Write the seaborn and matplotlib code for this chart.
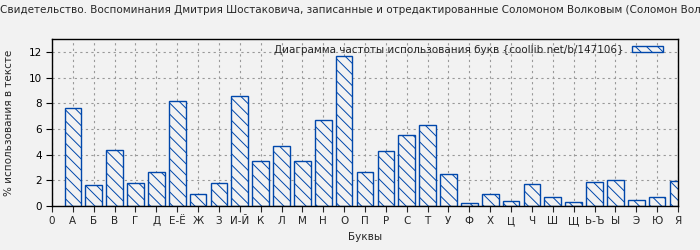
import matplotlib
matplotlib.use("Agg")
import matplotlib.pyplot as plt
import seaborn as sns
import pandas as pd

title = ("Свидетельство. Воспоминания Дмитрия Шостаковича, записанные и "
         "отредактированные Соломоном Волковым (Соломон Волков)")
legend_label = "Диаграмма частоты использования букв {coollib.net/b/147106}"
tick_labels = ["0", "А", "Б", "В", "Г", "Д", "Е-Ё", "Ж", "З", "И-Й", "К", "Л", "М",
               "Н", "О", "П", "Р", "С", "Т", "У", "Ф", "Х", "Ц", "Ч", "Ш", "Щ",
               "Ь-Ъ", "Ы", "Э", "Ю", "Я"]
letters = tick_labels[1:]
values = [7.63, 1.6, 4.35, 1.77, 2.63, 8.2, 0.91, 1.77, 8.57, 3.49, 4.66, 3.49,
          6.69, 11.69, 2.63, 4.27, 5.52, 6.3, 2.48, 0.21, 0.91, 0.37, 1.69, 0.68,
          0.29, 1.85, 2.0, 0.45, 0.68, 1.93]

bg = "#f2f2f2"
blue = "#0047ab"

sns.set_theme(style="white")
plt.rcParams["font.family"] = ["DejaVu Sans"]
plt.rcParams["hatch.color"] = blue
plt.rcParams["hatch.linewidth"] = 0.7

df = pd.DataFrame({"letter": letters, "value": values})

fig = plt.figure(figsize=(7, 2.5), dpi=100, facecolor=bg)
ax = fig.add_axes([0.0743, 0.176, 0.8943, 0.668])
ax.set_facecolor(bg)

sns.barplot(data=df, x="letter", y="value", order=tick_labels, ax=ax,
            color=bg, edgecolor=blue, linewidth=1.0, width=0.8,
            hatch="\\\\\\", label=legend_label, saturation=1)

ax.set_xlim(0, len(tick_labels) - 1)
ax.set_ylim(0, 13)
ax.set_xticks(range(len(tick_labels)))
ax.set_xticklabels(tick_labels, fontsize=7.5)
ax.set_yticks([0, 2, 4, 6, 8, 10, 12])
ax.tick_params(axis="y", labelsize=7.5, length=4, direction="out", width=0.8,
               left=True, colors="black")
ax.tick_params(axis="x", length=4, direction="out", width=0.8, bottom=True)
ax.grid(True, linestyle=(0, (2, 3)), color="#999999", linewidth=0.8)
ax.set_axisbelow(True)
for s in ax.spines.values():
    s.set_color("black")
    s.set_linewidth(1.0)

ax.set_xlabel("Буквы", fontsize=7.5)
ax.set_ylabel("% использования в тексте", fontsize=7.5, labelpad=10)

leg = ax.legend(loc="upper right", bbox_to_anchor=(0.985, 1.0), frameon=False,
                fontsize=7.5, markerfirst=False,
                handlelength=3.0, handleheight=0.6, borderaxespad=0.15,
                handletextpad=0.8)

fig.text(0.0, 0.96, title, fontsize=7.5, ha="left", va="center")

fig.savefig("out.png", dpi=100, facecolor=bg)
